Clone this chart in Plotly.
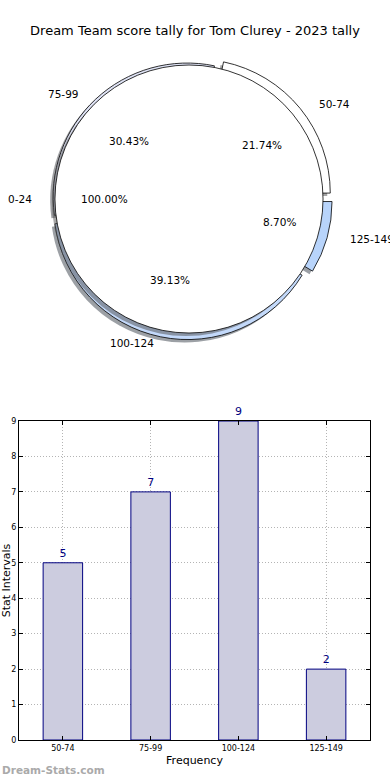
import math
import plotly.graph_objects as go

# ---- data ----
title_text = "Dream Team score tally for Tom Clurey - 2023 tally"
categories = ["50-74", "75-99", "100-124", "125-149"]
counts = [5, 7, 9, 2]
pie_colors = ["#ffffff", "#dfe3f5", "#c3d9fa", "#b8d4fb"]
explode = [0.07, 0.02, 0.05, 0.07]
outer_label = "0-24"
outer_value = [1]
y_ticks = list(range(0, 10))

W, H = 390, 780
FONT = "DejaVu Sans"

# pie geometry (pixels)
cx, cy, r = 189, 199, 134
rx_txt, ry_txt = 141, 128


def px_dom_x(a, b):
    return [a / W, b / W]


def px_dom_y(top, bottom):
    return [1 - bottom / H, 1 - top / H]


total = sum(counts)
# plotly's counterclockwise pies place the first slice clockwise of `rotation`,
# so shift so that the first slice starts at 3 o'clock and runs counterclockwise
rot = 90 - 360 * counts[0] / total

maxpull = max(explode)
side_p = 2 * r * (1 + maxpull)
side_c = 2 * r
sh_dx, sh_dy = -3, 3  # shadow offset (px)

fig = go.Figure()


def shade(hexcol):
    h = hexcol.lstrip("#")
    rgb = [int(h[i:i + 2], 16) for i in (0, 2, 4)]
    return "rgba(%d,%d,%d,0.5)" % tuple(int(0.3 * c) for c in rgb)


# shadow of exploded pie
fig.add_trace(go.Pie(
    labels=categories, values=counts, sort=False, direction="counterclockwise",
    rotation=rot, pull=explode, textinfo="none", hoverinfo="skip",
    marker=dict(colors=[shade(c) for c in pie_colors], line=dict(width=0)),
    domain=dict(x=px_dom_x(cx + sh_dx - side_p / 2, cx + sh_dx + side_p / 2),
                y=px_dom_y(cy + sh_dy - side_p / 2, cy + sh_dy + side_p / 2)),
    showlegend=False))
# exploded pie
fig.add_trace(go.Pie(
    labels=categories, values=counts, sort=False, direction="counterclockwise",
    rotation=rot, pull=explode, textinfo="none",
    marker=dict(colors=pie_colors, line=dict(color="black", width=0.8)),
    domain=dict(x=px_dom_x(cx - side_p / 2, cx + side_p / 2),
                y=px_dom_y(cy - side_p / 2, cy + side_p / 2)),
    showlegend=False))
# shadow of full circle
fig.add_trace(go.Pie(
    labels=[outer_label], values=outer_value, textinfo="none", hoverinfo="skip",
    marker=dict(colors=["rgba(77,77,77,0.5)"], line=dict(width=0)),
    domain=dict(x=px_dom_x(cx + sh_dx - side_c / 2, cx + sh_dx + side_c / 2),
                y=px_dom_y(cy + sh_dy - side_c / 2, cy + sh_dy + side_c / 2)),
    showlegend=False))
# full circle 0-24
fig.add_trace(go.Pie(
    labels=[outer_label], values=outer_value, textinfo="none",
    marker=dict(colors=["#ffffff"], line=dict(color="black", width=0.8)),
    domain=dict(x=px_dom_x(cx - side_c / 2, cx + side_c / 2),
                y=px_dom_y(cy - side_c / 2, cy + side_c / 2)),
    showlegend=False))

annotations = []
PIE_FS = 10.5


def add_pie_text(label, pct, theta_deg, ex):
    t = math.radians(theta_deg)
    c, s = math.cos(t), math.sin(t)
    lx = cx + (1.1 + ex) * rx_txt * c
    ly = cy - (1.1 + ex) * ry_txt * s
    px_ = cx + (0.6 + ex) * rx_txt * c
    py_ = cy - (0.6 + ex) * ry_txt * s
    annotations.append(dict(x=lx / W, y=1 - ly / H, xref="paper", yref="paper",
                            text=label, showarrow=False,
                            xanchor="left" if c > 0 else "right", yanchor="middle",
                            font=dict(family=FONT, size=PIE_FS, color="black")))
    annotations.append(dict(x=px_ / W, y=1 - py_ / H, xref="paper", yref="paper",
                            text=pct, showarrow=False, xanchor="center", yanchor="middle",
                            font=dict(family=FONT, size=PIE_FS, color="black")))


cum = 0
for lab, v, ex in zip(categories, counts, explode):
    mid = 360 * (cum + v / 2) / total
    add_pie_text(lab, "%.2f%%" % (100 * v / total), mid, ex)
    cum += v
add_pie_text(outer_label, "%.2f%%" % 100.0, 180, 0)

# ---- bar chart ----
fig.add_trace(go.Bar(
    x=categories, y=counts, width=0.45,
    marker=dict(color="#ccccdf", line=dict(color="#000080", width=1)),
    text=[str(v) for v in counts], textposition="outside", cliponaxis=False,
    textfont=dict(family=FONT, size=11, color="#000080"),
    showlegend=False, xaxis="x", yaxis="y"))

annotations.append(dict(x=0.0, y=1 - 770 / H, xref="paper", yref="paper",
                        text="<b>Dream-Stats.com</b>", showarrow=False,
                        xanchor="left", yanchor="middle",
                        font=dict(family=FONT, size=10.5, color="#aaaaaa")))

fig.update_layout(
    width=W, height=H, margin=dict(l=0, r=0, t=0, b=0),
    paper_bgcolor="white", plot_bgcolor="white",
    font=dict(family=FONT, color="black"),
    title=dict(text=title_text, x=0.5, xanchor="center", y=1 - 30 / H, yanchor="middle",
               font=dict(family=FONT, size=13, color="black")),
    annotations=annotations,
    xaxis=dict(domain=px_dom_x(19, 370), range=[-0.5, 3.5], showline=True,
               automargin=False,
               linecolor="black", linewidth=1, mirror="ticks", ticks="inside",
               ticklen=4, tickcolor="black", showgrid=True, gridcolor="#b4b4b4",
               griddash="1px,2px", gridwidth=1, tickfont=dict(size=8),
               title=dict(text="Frequency", font=dict(size=11), standoff=4)),
    yaxis=dict(domain=px_dom_y(421, 740), range=[0, 9], tickvals=y_ticks,
               automargin=False,
               showline=True, linecolor="black", linewidth=1, mirror="ticks",
               ticks="inside", ticklen=4, tickcolor="black", showgrid=True,
               gridcolor="#b4b4b4", griddash="1px,2px", gridwidth=1, zeroline=False,
               tickfont=dict(size=8),
               title=dict(text="Stat Intervals", font=dict(size=11), standoff=2)),
)

fig.write_html("out.html", config={"displayModeBar": False},
               post_script="document.body.style.margin='0';")
